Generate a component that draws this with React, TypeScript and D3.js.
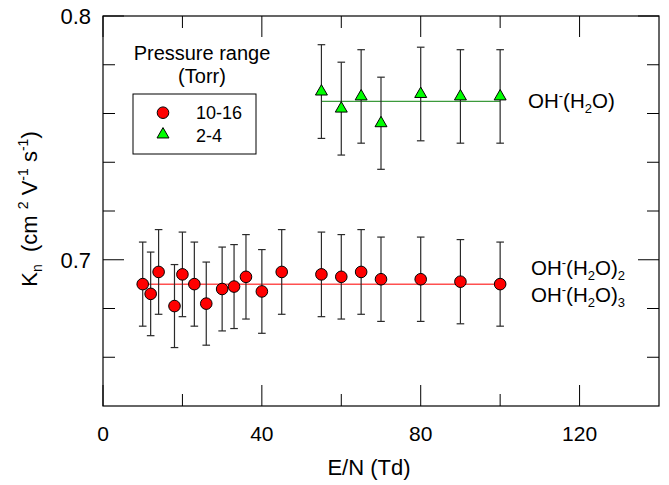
import React from "react";
import * as d3 from "d3";

const enRed = [10, 12, 14, 18, 20, 23, 26, 30, 33, 36, 40, 45, 55, 60, 65, 70, 80, 90, 100];
const kRed = [0.690, 0.686, 0.695, 0.681, 0.694, 0.690, 0.682, 0.688, 0.689, 0.693, 0.687, 0.695, 0.694, 0.693, 0.695, 0.692, 0.692, 0.691, 0.690];
const enGreen = [55, 60, 65, 70, 80, 90, 100];
const kGreen = [0.769, 0.762, 0.767, 0.756, 0.768, 0.767, 0.767];
const errFrac = 0.025;
const fitRed = 0.69;
const fitGreen = 0.765;
const xMajor = [0, 40, 80, 120];
const xMinor = [20, 60, 100];
const yMajor = [0.7, 0.8];
const yMinor = [0.66, 0.68, 0.72, 0.74, 0.76, 0.78];

const W = 669, H = 485;
const L = 103, R = 659, T = 16, B = 406;
const FONT = "'Liberation Sans', Arial, sans-serif";

export default function App() {
  const x = d3.scaleLinear().domain([0, 140]).range([L, R]);
  const y = d3.scaleLinear().domain([0.64, 0.8]).range([B, T]);
  const red = enRed.map((e, i) => ({ e, k: kRed[i] }));
  const green = enGreen.map((e, i) => ({ e, k: kGreen[i] }));
  const tri = d3.symbol().type(d3.symbolTriangle).size(62)();
  const cap = 3.8;
  const errBars = (data: { e: number; k: number }[], key: string) =>
    data.map((d, i) => {
      const cx = x(d.e);
      const y1 = y(d.k * (1 + errFrac));
      const y2 = y(d.k * (1 - errFrac));
      return (
        <g key={key + i} stroke="#2a2a2a" strokeWidth={1.2}>
          <line x1={cx} x2={cx} y1={y1} y2={y2} />
          <line x1={cx - cap} x2={cx + cap} y1={y1} y2={y1} />
          <line x1={cx - cap} x2={cx + cap} y1={y2} y2={y2} />
        </g>
      );
    });
  return (
    <svg width={W} height={H} style={{ position: "absolute", left: 0, top: 0 }} fontFamily={FONT}>
      <rect x={0} y={0} width={W} height={H} fill="white" />
      {/* ticks */}
      <g stroke="#000" strokeWidth={1}>
        {xMajor.map((v) => (
          <g key={"xm" + v}>
            <line x1={x(v)} x2={x(v)} y1={B} y2={B - 21} />
            <line x1={x(v)} x2={x(v)} y1={T} y2={T + 21} />
          </g>
        ))}
        {xMinor.map((v) => (
          <g key={"xn" + v}>
            <line x1={x(v)} x2={x(v)} y1={B} y2={B - 12} />
            <line x1={x(v)} x2={x(v)} y1={T} y2={T + 12} />
          </g>
        ))}
        {yMajor.map((v) => (
          <g key={"ym" + v}>
            <line x1={L} x2={L + 21} y1={y(v)} y2={y(v)} />
            <line x1={R} x2={R - 21} y1={y(v)} y2={y(v)} />
          </g>
        ))}
        {yMinor.map((v) => (
          <g key={"yn" + v}>
            <line x1={L} x2={L + 12} y1={y(v)} y2={y(v)} />
            <line x1={R} x2={R - 12} y1={y(v)} y2={y(v)} />
          </g>
        ))}
      </g>
      {/* tick labels */}
      {xMajor.map((v) => (
        <text key={"xl" + v} x={x(v)} y={441} fontSize={21} textAnchor="middle">{v}</text>
      ))}
      {yMajor.map((v) => (
        <text key={"yl" + v} x={91} y={y(v) + 8} fontSize={22} textAnchor="end">{v.toFixed(1)}</text>
      ))}
      {/* axis titles */}
      <text x={369} y={475} fontSize={22} textAnchor="middle">E/N (Td)</text>
      <text transform={`translate(37,${209}) rotate(-90)`} fontSize={22} textAnchor="middle" style={{ whiteSpace: "pre" }}>
        K<tspan fontSize={14} dy={5}>n</tspan>
        <tspan dy={-5}>{"  (cm "}</tspan>
        <tspan fontSize={14} dy={-9}>2</tspan>
        <tspan dy={9}>{" V"}</tspan>
        <tspan fontSize={14} dy={-9}>-1</tspan>
        <tspan dy={9}>{" s"}</tspan>
        <tspan fontSize={14} dy={-9}>-1</tspan>
        <tspan dy={9}>)</tspan>
      </text>
      {/* fit lines */}
      <line x1={x(10)} x2={x(100)} y1={y(fitRed)} y2={y(fitRed)} stroke="#ff5050" strokeWidth={1.5} />
      <line x1={x(55)} x2={x(100)} y1={y(fitGreen)} y2={y(fitGreen)} stroke="#3c9a3c" strokeWidth={1.2} />
      {/* error bars */}
      {errBars(red, "r")}
      {errBars(green, "g")}
      {/* markers */}
      {red.map((d, i) => (
        <circle key={"c" + i} cx={x(d.e)} cy={y(d.k)} r={5.8} fill="#ff0000" stroke="#000" strokeWidth={1} />
      ))}
      {green.map((d, i) => (
        <path key={"t" + i} d={tri} transform={`translate(${x(d.e)},${y(d.k)})`} fill="#00ff00" stroke="#000" strokeWidth={1} />
      ))}
      {/* annotations */}
      <text x={528} y={108} fontSize={20.5}>
        OH<tspan fontSize={13} dy={-8}>-</tspan>
        <tspan dy={8}>(H</tspan>
        <tspan fontSize={13} dy={5}>2</tspan>
        <tspan dy={-5}>O)</tspan>
      </text>
      <text x={531} y={275} fontSize={20.5}>
        OH<tspan fontSize={13} dy={-8}>-</tspan>
        <tspan dy={8}>(H</tspan>
        <tspan fontSize={13} dy={5}>2</tspan>
        <tspan dy={-5}>O)</tspan>
        <tspan fontSize={13} dy={5}>2</tspan>
      </text>
      <text x={531} y={302} fontSize={20.5}>
        OH<tspan fontSize={13} dy={-8}>-</tspan>
        <tspan dy={8}>(H</tspan>
        <tspan fontSize={13} dy={5}>2</tspan>
        <tspan dy={-5}>O)</tspan>
        <tspan fontSize={13} dy={5}>3</tspan>
      </text>
      {/* legend */}
      <text x={202} y={60} fontSize={20} textAnchor="middle">Pressure range</text>
      <text x={202} y={83} fontSize={20} textAnchor="middle">(Torr)</text>
      <rect x={133} y={94} width={123} height={60} fill="none" stroke="#000" strokeWidth={1} />
      <circle cx={163} cy={112.7} r={5.8} fill="#ff0000" stroke="#000" strokeWidth={1} />
      <path d={tri} transform={`translate(163,134.5)`} fill="#00ff00" stroke="#000" strokeWidth={1} />
      <text x={196} y={119} fontSize={18}>10-16</text>
      <text x={196} y={142} fontSize={18}>2-4</text>
      {/* frame */}
      <rect x={L} y={T} width={R - L} height={B - T} fill="none" stroke="#000" strokeWidth={1.2} />
    </svg>
  );
}
